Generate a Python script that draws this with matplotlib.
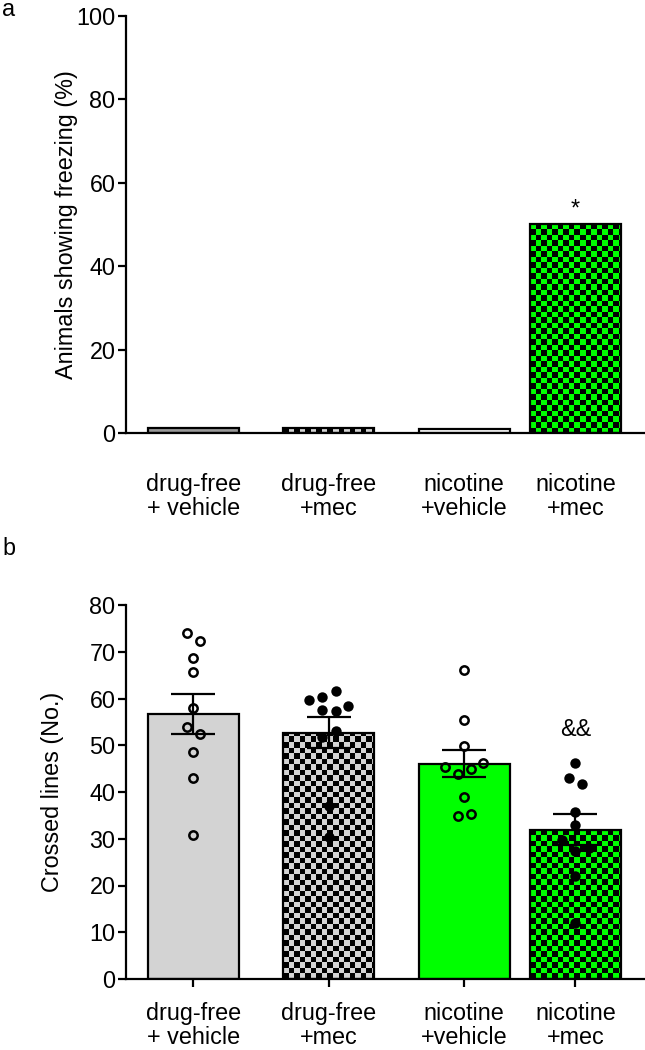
import numpy as np
import matplotlib
matplotlib.use("Agg")
import matplotlib.pyplot as plt
from matplotlib.colors import ListedColormap

# ---------------- data ----------------
groups = ["drug-free\n+ vehicle", "drug-free\n+mec", "nicotine\n+vehicle", "nicotine\n+mec"]
freezing_pct = [1.2, 1.2, 1.0, 50.0]

crossed_dfree_veh = [74.0, 72.2, 68.6, 65.6, 57.9, 53.8, 52.4, 48.6, 43.1, 30.7]
crossed_dfree_mec = [61.7, 60.4, 59.6, 58.4, 57.5, 57.4, 53.1, 51.7, 37.1, 30.3]
crossed_nic_veh = [66.0, 55.4, 49.9, 46.1, 45.4, 44.9, 43.9, 39.0, 35.4, 34.8]
crossed_nic_mec = [46.3, 43.0, 41.8, 35.8, 32.9, 29.7, 28.1, 27.3, 22.1, 11.9]
crossed_all = [crossed_dfree_veh, crossed_dfree_mec, crossed_nic_veh, crossed_nic_mec]

sig_a = ["", "", "", "*"]
sig_b = ["", "", "", "&&"]

# ---------------- layout / style ----------------
pos = np.array([0.0, 1.0, 2.0, 2.824])
bar_w = 0.673
jitter = [
    [-0.045, 0.05, 0, 0, 0, -0.048, 0.045, 0, 0, 0],
    [0.05, -0.05, -0.145, 0.143, -0.05, 0.05, 0.05, -0.05, 0, 0],
    [0, 0, 0, 0.143, -0.143, 0.05, -0.045, 0, 0.05, -0.045],
    [0, -0.045, 0.05, 0, 0, -0.098, 0.098, 0, 0, 0],
]
GRAY = "#D3D3D3"
GREEN = "#00FF00"
fills_a = [("solid", "#9a9a9a"), ("check", GRAY), ("solid", "white"), ("check", GREEN)]
fills_b = [("solid", GRAY), ("check", GRAY), ("solid", GREEN), ("check", GREEN)]
open_marker = [True, False, True, False]

plt.rcParams["font.family"] = ["Liberation Sans", "DejaVu Sans"]
FS = 16.8
LW = 1.6
LSP = 1.05

W, H = 645, 1050
fig = plt.figure(figsize=(W / 100, H / 100), dpi=100)
left = 126 / W
ax_a = fig.add_axes([left, 1 - 433 / H, 1 - left, (433 - 15.7) / H])
ax_b = fig.add_axes([left, 1 - 979 / H, 1 - left, (979 - 605) / H])

xlim = (-0.499, 3.338)
CELL_PX = 5.5


def draw_bars(ax, heights, fills):
    for x, h, (kind, col) in zip(pos, heights, fills):
        if kind == "solid":
            ax.bar(x, h, bar_w, color=col, edgecolor="black", linewidth=LW, zorder=2)
        else:
            rect = ax.bar(x, h, bar_w, color="none", edgecolor="black",
                          linewidth=LW, zorder=3)[0]
            x0 = x - bar_w / 2
            p0 = ax.transData.transform((x0, 0))
            p1 = ax.transData.transform((x0 + bar_w, h))
            wpx, hpx = p1[0] - p0[0], p1[1] - p0[1]
            nx = int(np.ceil(wpx / CELL_PX)) + 1
            ny = int(np.ceil(hpx / CELL_PX)) + 1
            dx = bar_w * CELL_PX / wpx
            dy = h * CELL_PX / hpx
            arr = (np.add.outer(np.arange(ny), np.arange(nx)) % 2).astype(float)
            im = ax.imshow(arr, cmap=ListedColormap(["black", col]), vmin=0, vmax=1,
                           extent=(x0, x0 + nx * dx, 0, ny * dy), origin="lower",
                           interpolation="nearest", aspect="auto", zorder=2)
            im.set_clip_path(rect)


def style_axes(ax):
    for s in ["top", "right"]:
        ax.spines[s].set_visible(False)
    for s in ["left", "bottom"]:
        ax.spines[s].set_linewidth(LW)
    ax.tick_params(axis="y", length=5.5, width=LW, labelsize=FS, pad=2)


# ---------------- panel a ----------------
ax_a.set_xlim(*xlim)
ax_a.set_ylim(0, 100)
draw_bars(ax_a, freezing_pct, fills_a)
ax_a.set_xlim(*xlim)
ax_a.set_ylim(0, 100)
style_axes(ax_a)
ax_a.set_yticks(np.arange(0, 101, 20))
ax_a.set_xticks(pos)
ax_a.set_xticklabels(groups, fontsize=FS, linespacing=LSP)
ax_a.tick_params(axis="x", length=0, pad=29)
ax_a.set_ylabel("Animals showing freezing (%)", fontsize=FS)
ax_a.yaxis.set_label_coords(-0.092, 0.5)
for x, h, s in zip(pos, freezing_pct, sig_a):
    if s:
        ax_a.text(x, h + 3.6, s, ha="center", va="center", fontsize=FS)

# ---------------- panel b ----------------
means = [np.mean(v) for v in crossed_all]
sems = [np.std(v, ddof=1) / np.sqrt(len(v)) for v in crossed_all]
ax_b.set_xlim(*xlim)
ax_b.set_ylim(0, 80)
draw_bars(ax_b, means, fills_b)
ax_b.errorbar(pos, means, yerr=sems, fmt="none", ecolor="black", elinewidth=LW,
              capsize=16, capthick=LW, zorder=6)
for i, vals in enumerate(crossed_all):
    xs = pos[i] + np.array(jitter[i])
    if open_marker[i]:
        ax_b.plot(xs, vals, "o", ms=6, mfc="none", mec="black", mew=1.8, zorder=5)
    else:
        ax_b.plot(xs, vals, "o", ms=7.5, mfc="black", mec="black", mew=0, zorder=5)
ax_b.set_xlim(*xlim)
ax_b.set_ylim(0, 80)
style_axes(ax_b)
ax_b.set_yticks(np.arange(0, 81, 10))
ax_b.set_xticks(pos)
ax_b.set_xticklabels(groups, fontsize=FS, linespacing=LSP)
ax_b.tick_params(axis="x", length=5.5, width=LW, pad=11.3)
ax_b.set_ylabel("Crossed lines (No.)", fontsize=FS)
ax_b.yaxis.set_label_coords(-0.119, 0.5)
for x, m, s in zip(pos, means, sig_b):
    if s:
        ax_b.text(x, 53.3, s, ha="center", va="center", fontsize=FS)

fig.text(2 / W, 1 - 16.5 / H, "a", fontsize=FS, ha="left", va="baseline")
fig.text(2 / W, 1 - 555 / H, "b", fontsize=FS, ha="left", va="baseline")

fig.savefig("out.png", dpi=100)
